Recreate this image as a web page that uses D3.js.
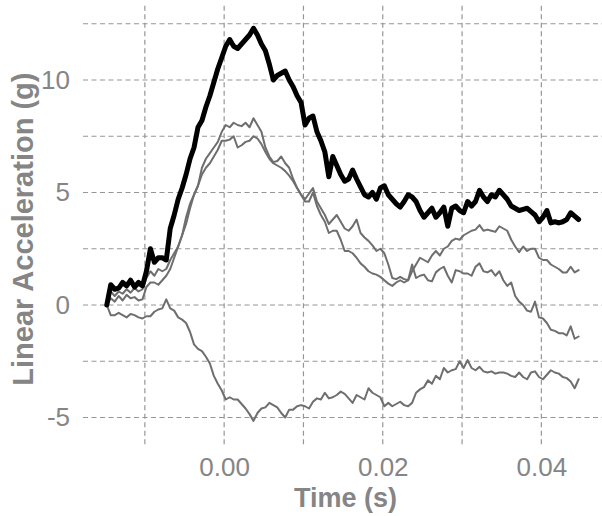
<!DOCTYPE html>
<html>
<head>
<meta charset="utf-8">
<script src="https://cdn.jsdelivr.net/npm/d3@7"></script>
<style>
  html, body { margin: 0; padding: 0; background: #fff; }
  svg { display: block; }
  text { font-family: "Liberation Sans", Arial, Helvetica, sans-serif; }
</style>
</head>
<body>
<svg id="chart" width="602" height="516"></svg>
<script>
// Sampling: one reading every 0.5 ms, starting at -14.8 ms
const tStart = -0.0148;
const tStep = 0.0005;

// Peak trace (drawn heavy, black)
const seriesPeak = [
  0.0, 0.9, 0.7, 0.75, 1.0, 0.85, 1.1, 0.8, 1.0, 0.85,
  1.5, 2.5, 1.9, 2.1, 2.1, 2.0, 3.4, 4.0, 4.7, 5.2,
  5.8, 6.5, 7.0, 7.9, 8.2, 8.8, 9.3, 9.9, 10.5, 11.0,
  11.5, 11.8, 11.5, 11.4, 11.6, 11.8, 12.0, 12.3, 12.0, 11.6,
  11.3, 10.7, 10.0, 10.2, 10.3, 10.4, 10.0, 9.7, 9.3, 9.0,
  8.0, 8.3, 8.4, 7.7, 7.3, 6.8, 5.7, 6.6, 6.2, 5.8,
  5.5, 5.6, 6.0, 5.6, 5.25, 4.9, 4.8, 5.0, 4.7, 5.2,
  5.3, 4.9, 4.7, 4.5, 4.35, 4.6, 4.9, 4.8, 4.6, 4.2,
  3.9, 4.1, 4.3, 3.9, 4.1, 4.35, 3.5, 4.3, 4.4, 4.2,
  4.1, 4.6, 4.4, 4.6, 5.1, 4.8, 4.6, 4.9, 4.8, 5.1,
  4.9, 4.7, 4.4, 4.3, 4.2, 4.25, 4.3, 4.15, 4.0, 3.7,
  3.9, 4.2, 3.65, 3.7, 3.65, 3.7, 3.8, 4.1, 3.95, 3.8
];

// Component traces (drawn thin, grey)
const seriesA = [
  0.0, 0.6, 0.4, 0.6, 0.5, 0.7, 0.55, 0.75, 0.6, 0.7,
  1.2, 1.5, 1.3, 1.6, 1.5, 1.6, 2.0, 2.3, 2.6, 3.1,
  3.9, 4.5, 4.9, 5.3, 6.1, 6.5, 6.75, 7.0, 7.25, 7.7,
  8.0, 7.9, 8.1, 8.0, 7.95, 8.1, 7.9, 8.3, 8.0, 7.7,
  7.0, 6.6, 6.35, 6.4, 6.6, 6.3, 6.1, 5.6, 5.2, 4.9,
  4.7, 4.95, 5.2, 4.6, 4.3, 4.0, 3.6, 3.8, 4.0, 3.7,
  3.4, 3.3, 3.5, 3.8, 3.2, 3.0, 2.85, 2.65, 2.4, 2.5,
  2.3, 1.8, 1.2, 1.15, 1.25, 1.15, 1.1, 1.5, 1.8, 2.1,
  2.0, 1.9, 2.2, 2.4, 2.2, 2.5, 2.6, 2.85, 2.95, 2.9,
  3.1, 3.2, 3.3, 3.35, 3.55, 3.3, 3.35, 3.3, 3.25, 3.5,
  3.4, 3.3, 2.9, 2.6, 2.35, 2.6, 2.4, 2.5, 2.5, 2.1,
  2.0, 2.0, 1.8, 1.7, 1.6, 1.45, 1.45, 1.7, 1.45, 1.55
];

const seriesB = [
  0.0, 0.3, 0.15, 0.4, 0.2, 0.45, 0.3, 0.35, 0.2, 0.25,
  0.8, 1.0, 1.0, 0.9, 1.1, 1.3, 1.6, 2.1, 2.6, 3.1,
  3.6, 4.3, 4.9, 5.3, 5.8, 6.1, 6.3, 6.6, 6.9, 7.3,
  7.3, 7.35, 7.5, 7.0, 7.1, 7.25, 7.3, 7.5, 7.4, 7.15,
  6.8, 6.5, 6.3, 6.2, 6.1, 5.95, 5.75, 5.5, 5.2, 4.9,
  4.6, 4.6, 5.0, 4.4, 4.0, 3.7, 3.2, 3.3, 3.3, 2.9,
  2.4, 2.4, 2.3, 2.1, 1.85, 1.7, 1.5, 1.4, 1.35, 1.25,
  1.1, 0.95, 0.85, 1.0, 1.1, 1.0, 1.1, 1.8, 1.2, 1.3,
  1.35, 1.1, 1.05, 1.45, 1.6, 1.7, 1.3, 1.0, 1.55, 1.5,
  1.4, 1.4, 1.3, 1.7, 1.85, 1.5, 1.45, 1.55, 1.3, 1.5,
  1.1, 0.85, 1.0, 0.4, 0.15, 0.0, -0.25, -0.3, 0.15, -0.55,
  -0.6, -0.8, -1.1, -1.15, -1.25, -1.25, -1.35, -0.95, -1.5, -1.4
];

const seriesC = [
  0.0, -0.45, -0.45, -0.35, -0.45, -0.55, -0.4, -0.45, -0.55, -0.6,
  -0.5, -0.5, -0.3, -0.2, -0.15, 0.25, -0.15, -0.25, -0.55, -0.65,
  -0.8, -1.2, -1.75, -1.95, -2.05, -2.3, -2.6, -3.15, -3.5, -3.8,
  -4.2, -4.1, -4.2, -4.2, -4.4, -4.6, -4.85, -5.15, -4.8, -4.6,
  -4.55, -4.35, -4.45, -4.55, -4.8, -5.0, -4.65, -4.65, -4.5, -4.45,
  -4.5, -4.6, -4.3, -4.15, -4.2, -3.9, -4.15, -4.1, -4.0, -3.85,
  -3.95, -4.15, -4.35, -4.0, -4.1, -4.2, -3.7, -3.9, -4.0, -4.1,
  -4.5, -4.35, -4.5, -4.4, -4.3, -4.45, -4.5, -4.35, -3.9, -3.75,
  -3.65, -3.35, -3.5, -3.15, -3.3, -2.8, -3.0, -2.9, -2.85, -2.5,
  -2.8, -2.45, -2.8, -2.9, -2.75, -2.95, -3.0, -2.95, -3.05, -3.0,
  -3.0, -3.05, -3.15, -3.2, -3.0, -3.2, -3.3, -3.0, -2.95, -3.2,
  -3.3, -3.1, -2.9, -3.0, -3.05, -3.2, -3.25, -3.4, -3.7, -3.3
];

// Axis ticks and grid positions
const xTickValues = [0.00, 0.02, 0.04];
const xGridValues = [-0.01, 0.00, 0.01, 0.02, 0.03, 0.04];
const yTickValues = [-5, 0, 5, 10];
const yGridValues = [-5, -2.5, 0, 2.5, 5, 7.5, 10, 12.5];

const xTitle = "Time (s)";
const yTitle = "Linear Acceleration (g)";

// ---------------------------------------------------------------
const svg = d3.select("#chart");
const W = 602, H = 516;
const panel = { left: 83, right: 604, top: 5.75, bottom: 444.5 };

const x = d3.scaleLinear().domain([-0.0178, 0.0479]).range([panel.left, panel.right]);
const y = d3.scaleLinear().domain([-6.2, 13.3]).range([panel.bottom, panel.top]);

const time = seriesPeak.map((_, i) => tStart + i * tStep);

const gridColor = "#969696";
const textColor = "#858585";

svg.append("rect").attr("width", W).attr("height", H).attr("fill", "#fff");

// Dashed grid
const grid = svg.append("g").attr("class", "grid");
grid.selectAll("line.h")
  .data(yGridValues)
  .join("line")
  .attr("class", "h")
  .attr("x1", panel.left).attr("x2", W)
  .attr("y1", d => y(d)).attr("y2", d => y(d))
  .attr("stroke", gridColor)
  .attr("stroke-width", 1.2)
  .attr("stroke-dasharray", "5,3.5");
grid.selectAll("line.v")
  .data(xGridValues)
  .join("line")
  .attr("class", "v")
  .attr("x1", d => x(d)).attr("x2", d => x(d))
  .attr("y1", panel.top).attr("y2", panel.bottom)
  .attr("stroke", gridColor)
  .attr("stroke-width", 1.2)
  .attr("stroke-dasharray", "5,3.5");

// Traces
const line = d3.line()
  .x((d, i) => x(time[i]))
  .y(d => y(d));

const traces = [
  { values: seriesC, color: "#6e6e6e", width: 2 },
  { values: seriesB, color: "#6e6e6e", width: 2 },
  { values: seriesA, color: "#6e6e6e", width: 2 },
  { values: seriesPeak, color: "#000000", width: 5 }
];

svg.append("g").attr("class", "traces")
  .selectAll("path")
  .data(traces)
  .join("path")
  .attr("d", d => line(d.values))
  .attr("fill", "none")
  .attr("stroke", d => d.color)
  .attr("stroke-width", d => d.width)
  .attr("stroke-linejoin", "round")
  .attr("stroke-linecap", "round");

// Axes (labels only)
const xAxis = d3.axisBottom(x)
  .tickValues(xTickValues)
  .tickFormat(d3.format(".2f"))
  .tickSize(0)
  .tickPadding(13);
const gx = svg.append("g")
  .attr("transform", `translate(0,${panel.bottom})`)
  .call(xAxis);
gx.select(".domain").remove();
gx.selectAll("text")
  .attr("fill", textColor)
  .style("font-size", "26px");

const yAxis = d3.axisLeft(y)
  .tickValues(yTickValues)
  .tickFormat(d => String(d))
  .tickSize(0)
  .tickPadding(13);
const gy = svg.append("g")
  .attr("transform", `translate(${panel.left},0)`)
  .call(yAxis);
gy.select(".domain").remove();
gy.selectAll("text")
  .attr("fill", textColor)
  .style("font-size", "26px");

// Axis titles
svg.append("text")
  .attr("x", (panel.left + panel.right) / 2 + 2)
  .attr("y", 507)
  .attr("text-anchor", "middle")
  .attr("fill", textColor)
  .style("font-size", "27px")
  .style("font-weight", "bold")
  .text(xTitle);

svg.append("text")
  .attr("transform", `translate(33,${(panel.top + panel.bottom) / 2 + 4}) rotate(-90)`)
  .attr("text-anchor", "middle")
  .attr("fill", textColor)
  .style("font-size", "29px")
  .style("font-weight", "bold")
  .text(yTitle);
</script>
</body>
</html>
